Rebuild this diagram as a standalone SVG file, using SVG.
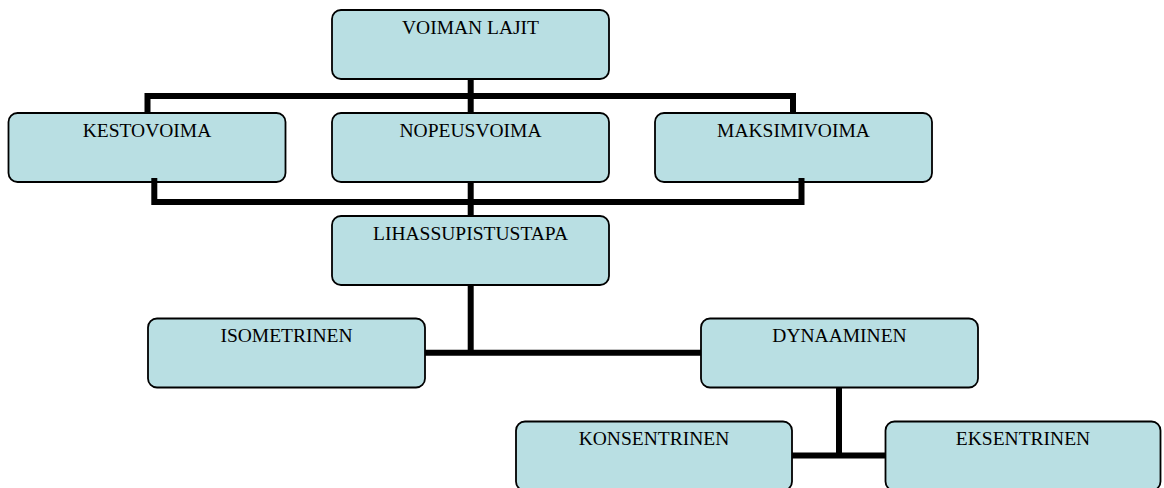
<svg xmlns="http://www.w3.org/2000/svg" width="1164" height="488" viewBox="0 0 1164 488">
<style>
.box{fill:#B9DFE3;stroke:#000;stroke-width:1.8}
.lbl{font-family:"Liberation Serif","Times New Roman",serif;font-size:19.5px;fill:#000;text-anchor:middle}
.con{fill:none;stroke:#000;stroke-width:6;stroke-linejoin:miter;stroke-linecap:butt}
</style>
<rect width="1164" height="488" fill="#fff"/>
<g id="n-voiman"><rect class="box" x="332" y="10" width="277" height="69" rx="9"/><text class="lbl" x="470.5" y="33.5">VOIMAN LAJIT</text></g>
<g id="n-kesto"><rect class="box" x="8.5" y="113" width="277" height="69" rx="9"/><text class="lbl" x="147" y="137">KESTOVOIMA</text></g>
<g id="n-nopeus"><rect class="box" x="332" y="113" width="277" height="69" rx="9"/><text class="lbl" x="470.5" y="137">NOPEUSVOIMA</text></g>
<g id="n-maksimi"><rect class="box" x="655" y="113" width="277" height="69" rx="9"/><text class="lbl" x="793.5" y="137">MAKSIMIVOIMA</text></g>
<g id="n-lihas"><rect class="box" x="332" y="216" width="277" height="69" rx="9"/><text class="lbl" x="470.5" y="240">LIHASSUPISTUSTAPA</text></g>
<g id="n-iso"><rect class="box" x="148" y="318.5" width="277" height="69" rx="9"/><text class="lbl" x="286.5" y="342">ISOMETRINEN</text></g>
<g id="n-dyn"><rect class="box" x="701" y="318.5" width="277" height="69" rx="9"/><text class="lbl" x="839.5" y="342">DYNAAMINEN</text></g>
<g id="n-kons"><rect class="box" x="516" y="421.5" width="276" height="69" rx="9"/><text class="lbl" x="654" y="445">KONSENTRINEN</text></g>
<g id="n-eks"><rect class="box" x="885.5" y="421.5" width="275" height="69" rx="9"/><text class="lbl" x="1023" y="445">EKSENTRINEN</text></g>
<g id="connectors">
<path class="con" d="M147.5 113 V96 H793 V113"/>
<path class="con" d="M470.7 79 V113"/>
<path class="con" d="M154.3 178 V202 H801.5 V178"/>
<path class="con" d="M470.7 182 V216"/>
<path class="con" d="M470.7 285 V352.8"/>
<path class="con" d="M425 352.8 H701"/>
<path class="con" d="M839 387.5 V455.5"/>
<path class="con" d="M792 455.5 H885.5"/>
</g>
</svg>
